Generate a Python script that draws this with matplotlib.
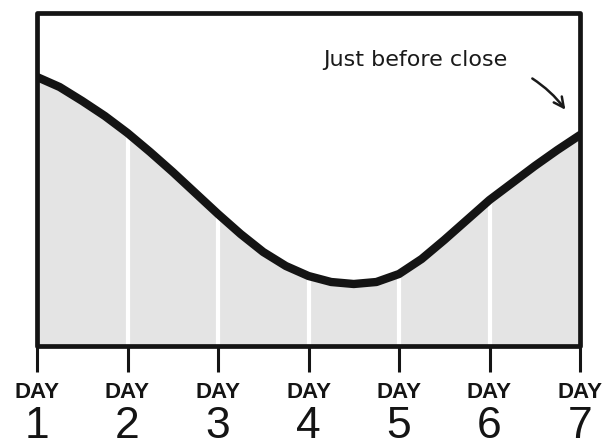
import matplotlib

matplotlib.use("Agg")
import matplotlib.pyplot as plt
from matplotlib.patches import Rectangle
from matplotlib.transforms import blended_transform_factory

# curve at quarter-day steps
days = [1.0, 1.25, 1.5, 1.75, 2.0, 2.25, 2.5, 2.75, 3.0, 3.25, 3.5, 3.75, 4.0,
        4.25, 4.5, 4.75, 5.0, 5.25, 5.5, 5.75, 6.0, 6.25, 6.5, 6.75, 7.0]
level = [269, 259, 245, 230, 213, 194, 174, 153, 132, 112, 94, 80, 70,
         64, 62, 64, 72, 87, 106, 126, 146, 163, 180, 196, 211]

tick_days = [1, 2, 3, 4, 5, 6, 7]
tick_numbers = ["1", "2", "3", "4", "5", "6", "7"]
tick_word = "DAY"
gap_days = [2, 3, 4, 5, 6]
note = "Just before close"

fig = plt.figure(figsize=(6.03, 4.46), dpi=100)
ax = fig.add_axes([37 / 603, 100 / 446, 543 / 603, 333 / 446])
ax.set_xlim(1, 7)
ax.set_ylim(0, 333)

ax.fill_between(days, 0, level, color="#e4e4e4", linewidth=0, zorder=1)
gap_tops = [level[days.index(float(d))] for d in gap_days]
ax.vlines(gap_days, 0, gap_tops, color="white", linewidth=3, zorder=2)
ax.plot(days, level, color="#141414", linewidth=6, solid_capstyle="round",
        solid_joinstyle="round", zorder=3)

for side in ax.spines.values():
    side.set_visible(False)
frame = Rectangle((0, 0), 1, 1, transform=ax.transAxes, fill=False,
                  edgecolor="#141414", linewidth=3.4, joinstyle="round",
                  clip_on=False, zorder=4)
ax.add_patch(frame)

ax.set_yticks([])
ax.set_xticks(tick_days)
ax.set_xticklabels([])
ax.tick_params(axis="x", direction="out", length=19, width=2.2, color="#141414")

trans = blended_transform_factory(ax.transData, fig.transFigure)
for d, n in zip(tick_days, tick_numbers):
    ax.text(d, 1 - 393 / 446, tick_word, transform=trans, ha="center", va="center",
            fontsize=16, fontweight="bold", family="Liberation Sans", color="#141414")
    ax.text(d, 1 - 426 / 446, n, transform=trans, ha="center", va="center",
            fontsize=32, family="Liberation Sans", color="#141414")

fig.text(415 / 603, 1 - 60 / 446, note, ha="center", va="center", fontsize=16,
         family="DejaVu Sans", color="#1a1a1a")
ax.annotate("", xy=(567 / 603, 1 - 112 / 446), xytext=(530 / 603, 1 - 77 / 446),
            xycoords="figure fraction", textcoords="figure fraction",
            arrowprops=dict(arrowstyle="->", color="#1a1a1a", lw=1.8,
                            connectionstyle="arc3,rad=-0.1",
                            mutation_scale=18))

fig.savefig("out.png", dpi=100)
